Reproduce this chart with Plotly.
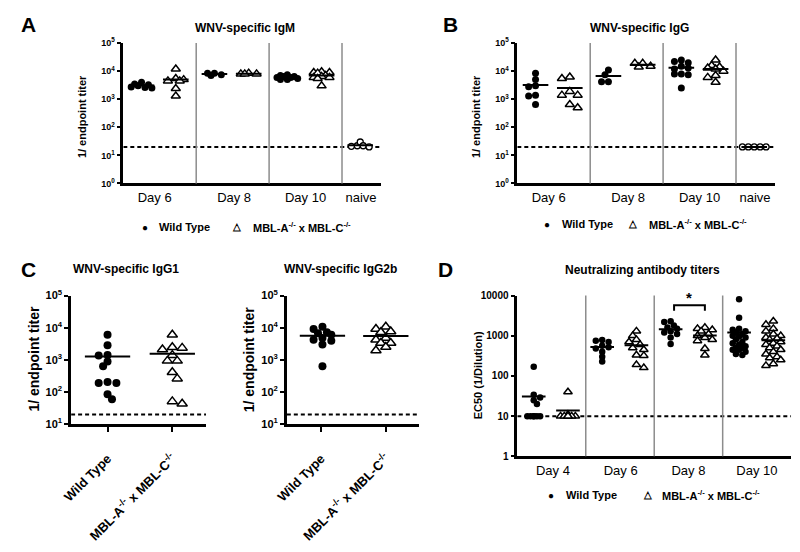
import numpy as np
import plotly.graph_objects as go

# ---------------- data ----------------
ab_days = ["Day 6", "Day 8", "Day 10", "naive"]
neut_days = ["Day 4", "Day 6", "Day 8", "Day 10"]
genotypes = ["Wild Type", "MBL-A<sup>-/-</sup> x MBL-C<sup>-/-</sup>"]

# A: WNV-specific IgM (1/endpoint titer)
igm_wt = [[2700, 4000, 3300, 2500, 3500, 3000, 2600],
          [8500, 7500, 7000, 8500],
          [7500, 7000, 6500, 6000, 6000, 5500, 5000, 5000, 6500]]
igm_ko = [[12000, 5500, 5000, 4500, 4500, 2400, 1300],
          [8500, 8000, 8000, 8000],
          [9500, 9000, 8500, 9000, 7000, 6500, 6000, 6000, 5500, 3000]]
igm_naive = [22, 30, 22, 21, 20]

# B: WNV-specific IgG
igg_wt = [[8500, 5000, 2800, 3000, 1400, 1300, 650],
          [11000, 7500, 4200, 4200],
          [25000, 20000, 22000, 15000, 13000, 12000, 8000, 8000, 7500, 2500]]
igg_ko = [[5500, 6200, 1400, 1400, 1900, 500, 650],
          [19000, 14000, 19000, 15000],
          [25000, 16000, 14000, 13000, 12000, 10000, 7000, 6000, 4000]]
igg_naive = [20, 20, 20, 20, 20]

# C: IgG1 / IgG2b
igg1_wt = [6000, 2850, 1420, 1370, 890, 630, 190, 190, 205, 85, 60]
igg1_ko = [6000, 2350, 2460, 2100, 1400, 930, 930, 410, 260, 43, 51]
igg2b_wt = [10700, 9100, 7200, 6000, 6700, 3950, 4760, 4200, 3000, 630]
igg2b_ko = [10700, 9100, 7200, 7600, 4200, 4800, 3350, 3350, 2500, 1950]

# D: neutralizing antibody titers (EC50, 1/dilution)
neut_wt = [[170, 34, 29, 25, 20, 10, 10, 10, 10, 10, 10],
           [780, 750, 700, 560, 520, 480, 400, 300, 230],
           [2300, 2200, 1800, 1600, 1500, 1300, 1200, 1100, 900, 620],
           [8100, 2800, 1500, 1400, 1300, 1200, 1100, 1000, 950, 900, 800,
            700, 650, 600, 550, 500, 500, 450, 450, 400, 350, 330]]
neut_ko = [[40, 11, 10, 10, 10, 10, 10, 10],
           [1300, 1000, 800, 700, 600, 500, 450, 330, 320, 190, 160],
           [1600, 1500, 1400, 1300, 1100, 1000, 900, 800, 750, 480, 330],
           [2300, 1900, 1500, 1300, 1100, 1000, 900, 850, 800, 700, 650,
            600, 550, 500, 450, 400, 350, 300, 280, 250, 200, 180]]

elisa_limit = 20
neut_limit = 10
sig_bracket = [4160, 5700]   # Day 8 significance bracket (ends, top)

pow_ticks_ab = [1, 10, 100, 1000, 10000, 100000]
pow_text_ab = ["10<sup>0</sup>", "10<sup>1</sup>", "10<sup>2</sup>",
               "10<sup>3</sup>", "10<sup>4</sup>", "10<sup>5</sup>"]
pow_ticks_c = [10, 100, 1000, 10000, 100000]
pow_text_c = ["10<sup>1</sup>", "10<sup>2</sup>", "10<sup>3</sup>",
              "10<sup>4</sup>", "10<sup>5</sup>"]
neut_ticks = [1, 10, 100, 1000, 10000]
neut_text = ["1", "10", "100", "1000", "10000"]

# ---------------- geometry ----------------
W, H = 800, 552
FONT = "Arial, Liberation Sans, sans-serif"


def dom_x(a, b):
    return [a / W, b / W]


def dom_y(top, bottom):
    return [1 - bottom / H, 1 - top / H]


def swarm(vals, ppd, diam, cap):
    """Deterministic bee-swarm horizontal offsets (pixels), limited to +-cap."""
    y = np.log10(np.asarray(vals, float)) * ppd
    order = np.argsort(-y, kind="stable")
    placed = []
    offs = np.zeros(len(y))
    step = diam * 0.5
    mind = diam * 0.7
    flip = 1
    for i in order:
        cands = [0.0]
        k = 1
        while k * step <= cap + 1e-9:
            cands += [flip * k * step, -flip * k * step]
            k += 1
        best, bestd = None, -1
        for c in cands:
            dmin = min([np.hypot(c - px, y[i] - py) for px, py in placed] or [1e9])
            if dmin >= mind:
                best = c
                break
            if dmin > bestd:
                best, bestd = c, dmin
        flip = -flip
        offs[i] = best
        placed.append((best, y[i]))
    return offs


fig = go.Figure()

WT_MK = dict(symbol="circle", color="black", size=7, line=dict(width=0))
KO_MK = dict(symbol="triangle-up", color="white", size=8, line=dict(color="black", width=1.5))
NA_MK = dict(symbol="circle", color="white", size=6, line=dict(color="black", width=1.3))


def add_group(xa, ya, vals, center, ppu, ppd, mk, hw, diam, cap):
    offs = swarm(vals, ppd, diam, cap)
    fig.add_trace(go.Scatter(x=center + offs / ppu, y=vals, mode="markers", marker=mk,
                             xaxis=xa, yaxis=ya, showlegend=False, hoverinfo="y"))
    m = float(np.mean(vals))
    fig.add_trace(go.Scatter(x=[center - hw / ppu, center + hw / ppu], y=[m, m], mode="lines",
                             line=dict(color="black", width=2), xaxis=xa, yaxis=ya,
                             showlegend=False, hoverinfo="skip"))


def add_hline(xa, ya, xr, yv):
    fig.add_trace(go.Scatter(x=list(xr), y=[yv, yv], mode="lines",
                             line=dict(color="black", width=2, dash="4px,3px"),
                             xaxis=xa, yaxis=ya, showlegend=False, hoverinfo="skip"))


def add_sep(xa, ya, xs):
    for xv in xs:
        fig.add_shape(type="line", xref=xa, yref=ya + " domain", x0=xv, x1=xv, y0=0, y1=1,
                      line=dict(color="#8c8c8c", width=1.5))


axis_common = dict(showline=True, linewidth=2.5, linecolor="black", showgrid=False,
                   zeroline=False, fixedrange=True)


def yaxis(xa, dom, rng, tv, tt, fs):
    return dict(axis_common, domain=dom, type="log", range=rng, tickvals=tv,
                ticktext=["<b>%s</b>" % t for t in tt], ticks="outside", ticklen=4,
                tickwidth=2, tickcolor="black", anchor=xa,
                tickfont=dict(size=fs, family=FONT, color="black"))


def xaxis(ya, dom, rng, tv, tt, fs, **kw):
    d = dict(axis_common, domain=dom, range=rng, tickvals=tv, ticktext=tt, anchor=ya,
             tickfont=dict(size=fs, family=FONT, color="black"))
    d.update(kw)
    return d


# ---- panels A and B ----
AB_XR = (0, 3.54)
AB_PPU = 262 / 3.54
AB_PPD = 144 / 5
for xa, ya, wt, ko, nv in (("x", "y", igm_wt, igm_ko, igm_naive),
                           ("x2", "y2", igg_wt, igg_ko, igg_naive)):
    add_hline(xa, ya, AB_XR, elisa_limit)
    add_sep(xa, ya, [1, 2, 3])
    for g in range(3):
        add_group(xa, ya, wt[g], g + 0.25, AB_PPU, AB_PPD, WT_MK, 13, 7, 11)
        add_group(xa, ya, ko[g], g + 0.72, AB_PPU, AB_PPD, KO_MK, 13, 8, 11)
    add_group(xa, ya, nv, 3.25, AB_PPU, AB_PPD, NA_MK, 13, 6, 12)

ab_label_pos = [0.43, 1.52, 2.5, 3.26]
fig.update_layout(
    xaxis=xaxis("y", dom_x(113, 375), list(AB_XR), ab_label_pos, ab_days, 13, ticks=""),
    yaxis=yaxis("x", dom_y(36, 180), [0, 5], pow_ticks_ab, pow_text_ab, 9),
    xaxis2=xaxis("y2", dom_x(513, 775), list(AB_XR), ab_label_pos, ab_days, 13, ticks=""),
    yaxis2=yaxis("x2", dom_y(36, 180), [0, 5], pow_ticks_ab, pow_text_ab, 9),
)

# ---- panel C ----
C_PPD = 132 / 4
for xa, ya, wt, ko, x0, x1 in (("x3", "y3", igg1_wt, igg1_ko, 60, 197),
                               ("x4", "y4", igg2b_wt, igg2b_ko, 279, 413)):
    ppu = x1 - x0
    add_hline(xa, ya, (0, 1), elisa_limit)
    add_group(xa, ya, wt, 0.27, ppu, C_PPD, dict(WT_MK, size=8), 23, 9, 12)
    add_group(xa, ya, ko, 0.75, ppu, C_PPD, dict(KO_MK, size=9), 23, 10, 12)

c_ticktext = ["<b>%s</b>" % g for g in genotypes]
fig.update_layout(
    xaxis3=xaxis("y3", dom_x(60, 197), [0, 1], [0.27, 0.75], c_ticktext, 13,
                 ticks="outside", ticklen=5, tickwidth=2, tickcolor="black",
                 tickangle=-45, ticklabelstandoff=14),
    yaxis3=yaxis("x3", dom_y(295, 427), [1, 5], pow_ticks_c, pow_text_c, 11),
    xaxis4=xaxis("y4", dom_x(279, 413), [0, 1], [0.26, 0.75], c_ticktext, 13,
                 ticks="outside", ticklen=5, tickwidth=2, tickcolor="black",
                 tickangle=-45, ticklabelstandoff=14),
    yaxis4=yaxis("x4", dom_y(295, 427), [1, 5], pow_ticks_c, pow_text_c, 11),
)

# ---- panel D ----
D_PPU = 278 / 4
D_PPD = 165 / 4
add_hline("x5", "y5", (0, 4), neut_limit)
add_sep("x5", "y5", [1, 2, 3])
for g in range(4):
    add_group("x5", "y5", neut_wt[g], g + 0.24, D_PPU, D_PPD, dict(WT_MK, size=6.5), 12, 6.5, 9)
    add_group("x5", "y5", neut_ko[g], g + 0.74, D_PPU, D_PPD, dict(KO_MK, size=7.5), 12, 7.5, 10)
fig.add_trace(go.Scatter(x=[2.29, 2.29, 2.74, 2.74],
                         y=[sig_bracket[0], sig_bracket[1], sig_bracket[1], sig_bracket[0]],
                         mode="lines", line=dict(color="black", width=2),
                         xaxis="x5", yaxis="y5", showlegend=False, hoverinfo="skip"))
fig.update_layout(
    xaxis5=xaxis("y5", dom_x(513, 791), [0, 4], [0.52, 1.51, 2.5, 3.5], neut_days, 13, ticks=""),
    yaxis5=yaxis("x5", dom_y(295, 460), [0, 4], neut_ticks, neut_text, 10),
)

# ---------------- annotations ----------------
ann = []


def txt(x, y, s, size, bold=True, angle=0, xanchor="center", yanchor="middle", **kw):
    d = dict(x=x / W, y=1 - y / H, xref="paper", yref="paper", text=("<b>%s</b>" % s) if bold else s,
             showarrow=False, textangle=angle, xanchor=xanchor, yanchor=yanchor,
             font=dict(size=size, family=FONT, color="black"))
    d.update(kw)
    ann.append(d)


# panel letters
txt(17, 17, "A", 21)
txt(445, 17, "B", 21)
txt(17, 268, "C", 21)
txt(440, 268, "D", 21)
# titles
txt(237, 21, "WNV-specific IgM", 12)
txt(637, 21, "WNV-specific IgG", 12)
txt(116, 268, "WNV-specific IgG1", 12)
txt(334, 268, "WNV-specific IgG2b", 12)
txt(640, 269, "Neutralizing antibody titers", 12)
# y titles
txt(71, 111, "1/ endpoint titer", 11, angle=-90)
txt(471, 111, "1/ endpoint titer", 11, angle=-90)
txt(22, 360, "1/ endpoint titer", 14, angle=-90)
txt(240, 360, "1/ endpoint titer", 14, angle=-90)
txt(474, 377, "EC50 (1/Dilution)", 11, angle=-90)
# legends
for (xd, xwt, xtri, xko, yl) in ((135, 147, 228, 243, 225),
                                 (543, 556, 630, 645, 222),
                                 (547, 560, 645, 658, 500)):
    txt(xd, yl, "●", 10, bold=False)
    txt(xwt, yl, genotypes[0], 11, xanchor="left")
    txt(xtri, yl - 1, "△", 10)
    txt(xko, yl, genotypes[1], 11, xanchor="left")

fig.update_layout(annotations=ann)
fig.add_annotation(x=2.515, y=float(np.log10(sig_bracket[1])), xref="x5", yref="y5",
                   text="<b>*</b>", showarrow=False, yanchor="bottom", yshift=-3,
                   font=dict(size=15, family=FONT, color="black"))

fig.update_layout(width=W, height=H, margin=dict(l=0, r=0, t=0, b=0),
                  paper_bgcolor="white", plot_bgcolor="white", showlegend=False,
                  font=dict(family=FONT, color="black"))

fig.write_html("out.html", config={"displayModeBar": False},
               post_script="document.body.style.margin='0px';")
